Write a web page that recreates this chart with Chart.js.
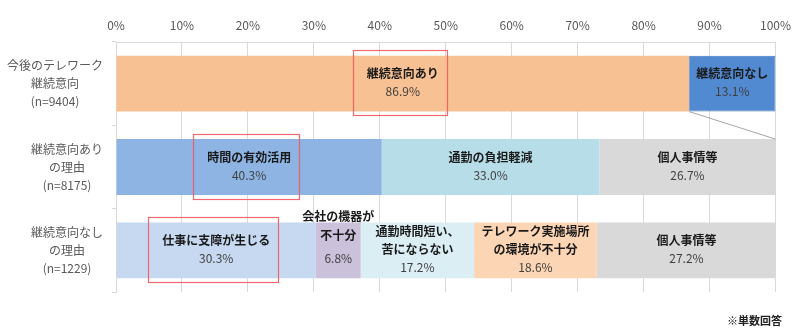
<!DOCTYPE html>
<html>
<head>
<meta charset="utf-8">
<script src="https://cdn.jsdelivr.net/npm/chart.js@4.4.1/dist/chart.umd.min.js"></script>
<style>
body { margin: 0; background: #fff; }
#wrap { position: relative; width: 800px; height: 332px; }
#note { position: absolute; left: 727px; top: 312px; font: bold 11px "Noto Sans CJK JP"; color: #222; }
</style>
</head>
<body>
<div id="wrap">
  <canvas id="c" width="800" height="332"></canvas>
  <div id="note">※単数回答</div>
</div>
<script>
// rows (y axis)
var rowLabels = [
  ['今後のテレワーク', '継続意向', '(n=9404)'],
  ['継続意向あり', 'の理由', '(n=8175)'],
  ['継続意向なし', 'の理由', '(n=1229)']
];
// row 1 : intention
var intentNames = ['継続意向あり', '継続意向なし'];
var intentValues = [86.9, 13.1];
// row 2 : reasons to continue
var yesNames = ['時間の有効活用', '通勤の負担軽減', '個人事情等'];
var yesValues = [40.3, 33.0, 26.7];
// row 3 : reasons not to continue
var noNames = ['仕事に支障が生じる', '会社の機器が\n不十分', '通勤時間短い、\n苦にならない', 'テレワーク実施場所\nの環境が不十分', '個人事情等'];
var noValues = [30.3, 6.8, 17.2, 18.6, 27.2];

var rowNames = [intentNames, yesNames, noNames];
var rowValues = [intentValues, yesValues, noValues];

// styles
var rowColors = [
  ['#F8C193', '#528AD2'],
  ['#8EB4E3', '#B7DEE8', '#D9D9D9'],
  ['#C6D9F1', '#CCC1DA', '#DBEEF4', '#FCD5B5', '#D9D9D9']
];
var rowBorders = [
  ['#F8C193', '#3F74BC'],
  ['#8EB4E3', '#B7DEE8', '#D9D9D9'],
  ['#C6D9F1', '#CCC1DA', '#DBEEF4', '#FCD5B5', '#D9D9D9']
];
var highlights = [[0, 0], [1, 0], [2, 0]];
var JP = '"Noto Sans CJK JP", "Noto Sans", sans-serif';

var slots = 5;
var datasets = [];
for (var s = 0; s < slots; s++) {
  var d = [], bg = [], bc = [];
  for (var r = 0; r < rowValues.length; r++) {
    d.push(s < rowValues[r].length ? rowValues[r][s] : null);
    bg.push(rowColors[r][s] || '#fff');
    bc.push(rowBorders[r][s] || '#fff');
  }
  datasets.push({ data: d, backgroundColor: bg, borderColor: bc, borderWidth: 0,
    barPercentage: 0.67, categoryPercentage: 1 });
}
datasets[1].borderWidth = [1, 0, 0];

var segLabels = {
  id: 'segLabels',
  afterDatasetsDraw: function(chart) {
    var ctx = chart.ctx;
    var xs = chart.scales.x, ysc = chart.scales.y;
    ctx.save();
    ctx.textAlign = 'center';
    ctx.textBaseline = 'middle';

    // row labels: block right-aligned, lines centred inside the block
    ctx.font = '12px ' + JP;
    ctx.fillStyle = '#595959';
    rowLabels.forEach(function(lbl, r) {
      var w = 0;
      lbl.forEach(function(t) { w = Math.max(w, ctx.measureText(t).width); });
      var cx = ysc.right - 13 - w / 2;
      var cy = ysc.getPixelForValue(r);
      lbl.forEach(function(t, i) { ctx.fillText(t, cx, cy + (i - 1) * 18); });
    });

    var boxes = [];
    for (var s = 0; s < slots; s++) {
      var meta = chart.getDatasetMeta(s);
      for (var r = 0; r < rowValues.length; r++) {
        if (s >= rowValues[r].length) continue;
        var el = meta.data[r];
        var cx = (el.x + el.base) / 2, cy = el.y;
        var lines = rowNames[r][s].split('\n');
        var n = lines.length + 1;
        var ys = [];
        for (var i = 0; i < n; i++) ys.push(cy + (i - (n - 1) / 2) * 18 - 1);
        if (r == 2 && s == 1) ys = [cy - 34, cy - 15, cy + 8];
        ctx.font = 'bold 12px ' + JP;
        ctx.fillStyle = '#1a1a1a';
        var tw = 0;
        lines.forEach(function(t, i) {
          ctx.fillText(t, cx, ys[i]);
          tw = Math.max(tw, ctx.measureText(t).width);
        });
        ctx.font = '12px ' + JP;
        ctx.fillStyle = '#404040';
        ctx.fillText(rowValues[r][s].toFixed(1) + '%', cx, ys[n - 1]);
        highlights.forEach(function(h) {
          if (h[0] == r && h[1] == s) boxes.push([cx - 3, cy - 1, tw + 22]);
        });
      }
    }
    // red highlight boxes
    ctx.strokeStyle = 'rgba(240,90,95,0.9)';
    ctx.lineWidth = 1.2;
    boxes.forEach(function(b) {
      ctx.strokeRect(Math.round(b[0] - b[2] / 2) + 0.5, Math.round(b[1] - 32.5) + 0.5, Math.round(b[2]), 65);
    });
    // connector line from "no" segment to the row below
    var e0 = chart.getDatasetMeta(0).data[0];
    var e1 = chart.getDatasetMeta(0).data[1];
    ctx.strokeStyle = '#A6A6A6';
    ctx.lineWidth = 1;
    ctx.beginPath();
    ctx.moveTo(xs.getPixelForValue(intentValues[0]), e0.y + e0.height / 2);
    ctx.lineTo(xs.getPixelForValue(100), e1.y - e1.height / 2);
    ctx.stroke();
    ctx.restore();
  }
};

new Chart(document.getElementById('c'), {
  type: 'bar',
  data: { labels: rowLabels, datasets: datasets },
  options: {
    indexAxis: 'y',
    responsive: false,
    animation: false,
    layout: { padding: { left: 0, right: 24, top: 0, bottom: 40 } },
    plugins: { legend: { display: false }, tooltip: { enabled: false } },
    scales: {
      x: {
        position: 'top',
        stacked: true,
        min: 0, max: 100,
        ticks: { stepSize: 10, color: '#595959', padding: 9,
          font: { family: JP, size: 12 },
          callback: function(v) { return v + '%'; } },
        grid: { color: '#D9D9D9', drawTicks: false },
        border: { display: true, color: '#D9D9D9' },
        afterFit: function(sc) { sc.height = 42; }
      },
      y: {
        stacked: true,
        ticks: { display: false },
        grid: { drawOnChartArea: false, tickLength: 4, color: '#D9D9D9' },
        border: { display: true, color: '#D9D9D9' },
        afterFit: function(sc) { sc.width = 116; }
      }
    }
  },
  plugins: [segLabels]
});
</script>
</body>
</html>
